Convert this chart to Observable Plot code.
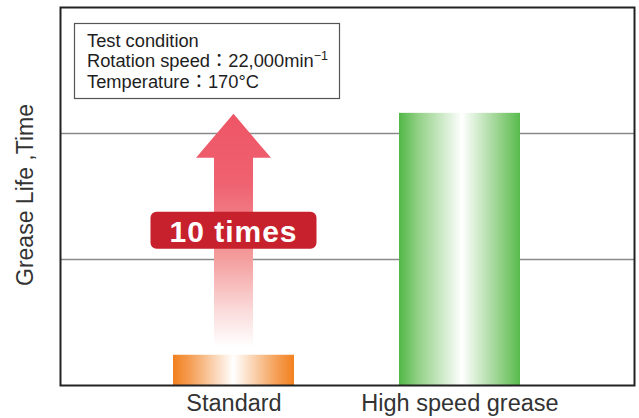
<!DOCTYPE html>
<html><head><meta charset="utf-8">
<script src="https://cdn.jsdelivr.net/npm/d3@7"></script>
<script src="https://cdn.jsdelivr.net/npm/@observablehq/plot@0.6"></script>
<style>body{margin:0;background:#fff} svg{display:block}</style>
</head><body><div id="chart"></div>
<script>
const categories = ["Standard", "High speed grease"];
const lifeValues = [0.24, 2.16];
const gridTicks = [1, 2];
const yLabel = "Grease Life ,Time";
const conditionTitle = "Test condition";
const speedText = "Rotation speed：22,000min";
const speedUnitSup = "−1";
const tempText = "Temperature：170°C";
const ratioLabel = "10 times";
const barFills = ["url(#gStd)", "url(#gHigh)"];

const data = categories.map((c, i) => ({category: c, value: lifeValues[i], fill: barFills[i]}));

const font = "'Liberation Sans', Arial, Helvetica, 'Noto Sans CJK JP', sans-serif";

const chart = Plot.plot({
  width: 639, height: 418,
  marginLeft: 60, marginRight: 5, marginTop: 7, marginBottom: 33,
  style: {fontFamily: font, background: "#fff", color: "#333"},
  x: {domain: categories, paddingInner: 0.463, paddingOuter: 0.496, axis: null},
  y: {domain: [0, 3], axis: null},
  color: {type: "identity"},
  marks: [
    Plot.ruleY(gridTicks, {stroke: "#8a8a8a", strokeWidth: 1.6}),
    Plot.barY(data, {x: "category", y: "value", fill: "fill"}),
    Plot.frame({stroke: "#222", strokeWidth: 2}),
    Plot.axisX({tickSize: 0, tickPadding: 9, fontSize: 23.5, label: null, fill: "#333"})
  ]
});

const svg = d3.select(chart);
const defs = svg.append("defs");
function hgrad(id, stops) {
  const g = defs.append("linearGradient").attr("id", id).attr("x1", 0).attr("x2", 1).attr("y1", 0).attr("y2", 0);
  stops.forEach(([o, c]) => g.append("stop").attr("offset", o).attr("stop-color", c));
}
hgrad("gStd", [[0, "#f2801e"], [0.15, "#f5a058"], [0.5, "#ffffff"], [0.85, "#f5a058"], [1, "#f2801e"]]);
hgrad("gHigh", [[0, "#50b746"], [0.15, "#8fcf83"], [0.52, "#ffffff"], [0.85, "#8fcf83"], [1, "#58bb4c"]]);

const xs = chart.scale("x"), ys = chart.scale("y");
const cx = xs.apply(categories[0]) + xs.bandwidth / 2;
const tip = ys.apply(lifeValues[1]) + 1;
const base = ys.apply(lifeValues[0]) - 8;
const headH = 44, headW = 37.5, shaftW = 19.5;

const ag = defs.append("linearGradient").attr("id", "gArrow").attr("gradientUnits", "userSpaceOnUse")
  .attr("x1", 0).attr("x2", 0).attr("y1", tip).attr("y2", base);
[[0, "#ee5565"], [0.3, "#ef6270"], [0.62, "#f49d9d"], [0.85, "#fbdcdc"], [1, "#ffffff"]]
  .forEach(([o, c]) => ag.append("stop").attr("offset", o).attr("stop-color", c));

svg.append("path")
  .attr("d", `M${cx},${tip} L${cx + headW},${tip + headH} L${cx + shaftW},${tip + headH} L${cx + shaftW},${base} L${cx - shaftW},${base} L${cx - shaftW},${tip + headH} L${cx - headW},${tip + headH} Z`)
  .attr("fill", "url(#gArrow)");

const mid = (tip + base) / 2;
svg.append("rect").attr("x", cx - 83).attr("y", mid - 18.5).attr("width", 166).attr("height", 37)
  .attr("rx", 6).attr("fill", "#c7212d");
svg.append("text").attr("x", cx).attr("y", mid + 1).attr("text-anchor", "middle").attr("dominant-baseline", "central")
  .attr("font-family", font).attr("font-weight", "bold").attr("font-size", 30).attr("fill", "#fff")
  .attr("letter-spacing", 1).text(ratioLabel);

// condition box
svg.append("rect").attr("x", 74.5).attr("y", 23.5).attr("width", 265).attr("height", 75)
  .attr("fill", "#fff").attr("stroke", "#555").attr("stroke-width", 1.2);
const tg = svg.append("g").attr("font-family", font).attr("font-size", 18.3).attr("fill", "#1e1e1e")
  .attr("text-anchor", "start");
tg.append("text").attr("x", 87).attr("y", 46.5).text(conditionTitle);
const t2 = tg.append("text").attr("x", 87).attr("y", 67);
t2.append("tspan").text(speedText);
t2.append("tspan").attr("dy", -7).attr("font-size", 12.5).text(speedUnitSup);
tg.append("text").attr("x", 87).attr("y", 88).text(tempText);

// y label
svg.append("text").attr("transform", "translate(25,195) rotate(-90)")
  .attr("text-anchor", "middle").attr("dominant-baseline", "central")
  .attr("font-family", font).attr("font-size", 23).attr("fill", "#333").text(yLabel);

document.getElementById("chart").appendChild(chart);
</script>
</body></html>
